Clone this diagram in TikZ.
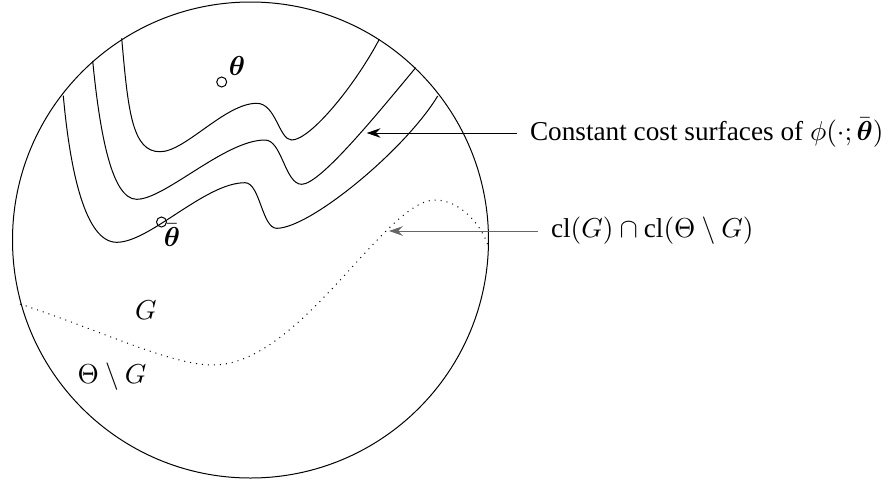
\documentclass[tikz,border=0pt]{standalone}
\usepackage{amsmath}
\usepackage{fontspec}
\setmainfont{Liberation Serif}
\usetikzlibrary{arrows.meta}

\begin{document}
\begin{tikzpicture}[x=0.4pt, y=-0.4pt,
    every node/.style={font=\fontsize{10.9}{13}\selectfont},
    marker/.style={circle, draw, inner sep=0pt, minimum size=4pt},
    callout/.style={-{Stealth[length=5.5pt,width=3.8pt]}},
    lbl/.style={anchor=west, inner sep=5pt}]
  \useasboundingbox (0,0) rectangle (882,481);
  % the set Theta
  \draw (250.5,240) circle[radius=238];
  % constant cost surfaces
  \draw (121.7,38.3) .. controls (128,110) and (132,152) .. (160,151.7)
    .. controls (185,152) and (225,103.3) .. (256.7,103.3)
    .. controls (276,103.3) and (279,140) .. (291.7,140)
    .. controls (310,140) and (354,87) .. (379.3,39.3);
  \draw (92.7,61) .. controls (100,135) and (112,199.3) .. (136.7,199.3)
    .. controls (165,199.3) and (225,140) .. (265,140)
    .. controls (282,140) and (285,184.3) .. (301.7,184.3)
    .. controls (320,184.3) and (375.7,115.7) .. (415.7,67.7);
  \draw (63.3,95.7) .. controls (70,170) and (85,242.3) .. (116.7,242.3)
    .. controls (150,242.3) and (205,182.7) .. (245,182.7)
    .. controls (260,182.7) and (262,228.3) .. (276.7,228.3)
    .. controls (310,228.3) and (405,150) .. (437.7,96);
  % boundary between G and Theta \ G
  \draw[dotted] (20,304) .. controls (100,330) and (170,365) .. (213.3,365)
    .. controls (300,365) and (385,200) .. (435,200)
    .. controls (460,200) and (482,225) .. (488.3,246.7);
  % points
  \node[marker] (thpt) at (221.7,82) {};
  \node (th) at (237,66) {$\boldsymbol{\theta}$};
  \node[marker] (thbarpt) at (161.5,222) {};
  \node (thbar) at (172,235) {$\bar{\boldsymbol{\theta}}$};
  % regions
  \node (g) at (146,310.5) {$G$};
  \node (rest) at (112,377) {$\Theta \setminus G$};
  % callouts
  \coordinate (costtip) at (366.7,133);
  \coordinate (bdtip) at (389,231);
  \node[lbl] (costlbl) at (517,133) {Constant cost surfaces of $\phi(\cdot;\bar{\boldsymbol{\theta}})$};
  \node[lbl] (bdlbl) at (538,231) {$\mathrm{cl}(G) \cap \mathrm{cl}(\Theta \setminus G)$};
  \draw[callout] (costlbl) -- (costtip);
  \draw[callout, black!60] (bdlbl) -- (bdtip);
\end{tikzpicture}
\end{document}
